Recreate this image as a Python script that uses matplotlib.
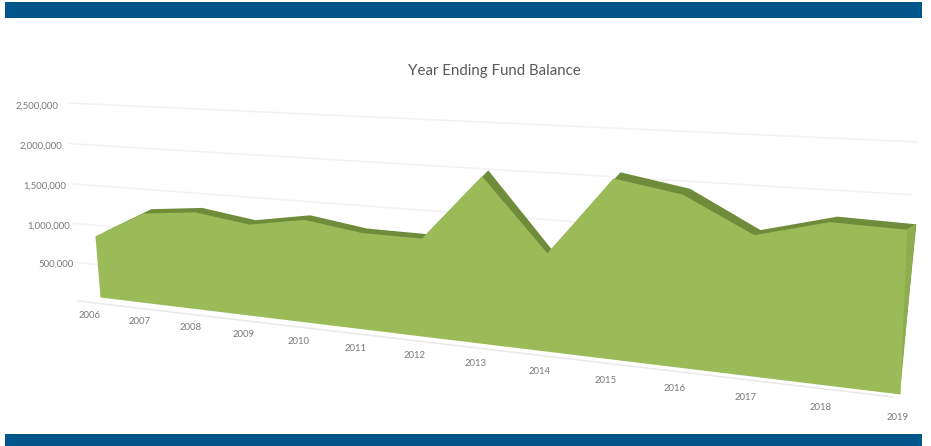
import numpy as np
import matplotlib
matplotlib.use("Agg")
import matplotlib.pyplot as plt
from matplotlib.patches import Rectangle
from matplotlib.transforms import Transform

# Fund balance at the close of each year
years = [2006, 2007, 2008, 2009, 2010, 2011, 2012, 2013, 2014, 2015, 2016, 2017, 2018, 2019]
balances = [800000, 1155000, 1230000, 1140000, 1260000, 1165000, 1165000,
            1940000, 1130000, 2020000, 1900000, 1530000, 1730000, 1715000]
value_ticks = [500000, 1000000, 1500000, 2000000, 2500000]

FIRST, LAST = years[0], years[-1]
VMAX = value_ticks[-1]


class Plane(Transform):
    """Perspective mapping from (year, value) onto a flat plane in pixel space."""
    input_dims = 2
    output_dims = 2
    is_affine = False

    def __init__(self, low_first, low_last, high_first, high_last):
        super().__init__()
        src = [(FIRST, 0), (LAST, 0), (FIRST, VMAX), (LAST, VMAX)]
        dst = [low_first, low_last, high_first, high_last]
        rows, rhs = [], []
        for (sx, sy), (dx, dy) in zip(src, dst):
            # Normalised inputs keep the linear solve well conditioned
            a, b = (sx - FIRST) / (LAST - FIRST), sy / VMAX
            rows.append([a, b, 1, 0, 0, 0, -dx * a, -dx * b])
            rows.append([0, 0, 0, a, b, 1, -dy * a, -dy * b])
            rhs += [dx, dy]
        self.h = np.append(np.linalg.solve(np.array(rows), np.array(rhs)), 1.0).reshape(3, 3)

    def transform_non_affine(self, values):
        values = np.asarray(values, dtype=float)
        a = (values[:, 0] - FIRST) / (LAST - FIRST)
        b = values[:, 1] / VMAX
        p = self.h @ np.vstack([a, b, np.ones_like(a)])
        return (p[:2] / p[2]).T


fig = plt.figure(figsize=(9.31, 4.46), dpi=100)
ax = fig.add_axes([0, 0, 1, 1])

front = Plane((100, 297), (900, 394), (84, 102), (910, 151)) + ax.transData
back = Plane((108, 293), (899, 391), (93, 96), (924, 143)) + ax.transData
wall = Plane((78, 301), (893, 397), (68, 103), (917, 142)) + ax.transData
year_row = Plane((90, 315), (898, 417), (80, 120), (922, 170)) + ax.transData
value_col = Plane((78, 302), (893, 397), (58, 106), (917, 142)) + ax.transData

# Header and footer bands
BAND = "#00568A"
ax.add_patch(Rectangle((5, 2), 916.5, 16, color=BAND, lw=0))
ax.add_patch(Rectangle((5, 434), 916.5, 12, color=BAND, lw=0))

# Gridlines on the rear wall and the floor edge
for v in value_ticks:
    ax.plot([FIRST, LAST], [v, v], color="#f2f2f2", lw=1.1, transform=wall, zorder=1)
ax.plot([FIRST, LAST], [0, 0], color="#e9e9e9", lw=1.1, transform=wall, zorder=1)

# Area body: rear silhouette, end cap, then the front face
ax.fill_between(years, 0, balances, color="#6F8C3B", lw=0, transform=back, zorder=2)
cap_points = np.vstack([
    front.transform([(LAST, 0), (LAST, balances[-1])]),
    back.transform([(LAST, balances[-1])]),
])
inv = ax.transData.inverted().transform(cap_points)
ax.fill(inv[:, 0], inv[:, 1], color="#8DAD4E", lw=0, zorder=3)
ax.fill_between(years, 0, balances, color="#9BBB59", lw=0, transform=front, zorder=4)

# Axis labels
TICK = "#7a7a7a"
for v in value_ticks:
    ax.text(FIRST, v, f"{v:,}", transform=value_col, ha="right", va="center",
            fontsize=6.9, color=TICK, family="Lato", zorder=5)
for y in years:
    ax.text(y, 0, str(y), transform=year_row, ha="center", va="center",
            fontsize=6.9, color=TICK, family="Lato", zorder=5)

ax.text(494, 70.5, "Year Ending Fund Balance", ha="center", va="center",
        fontsize=10.85, color="#595959", family="Lato", zorder=5)

ax.set_xlim(0, 931)
ax.set_ylim(446, 0)
ax.axis("off")
fig.savefig("out.png", dpi=100)
